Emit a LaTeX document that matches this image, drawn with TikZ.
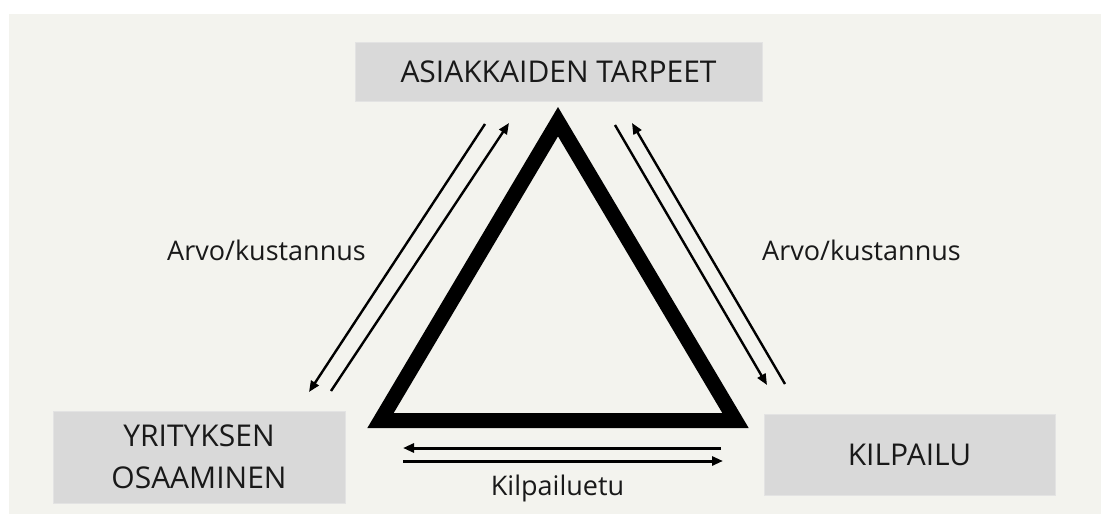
\documentclass[tikz,border=0pt]{standalone}
\usepackage{fontspec}
\setmainfont{Open Sans}
\usetikzlibrary{arrows.meta}
\definecolor{fondo}{HTML}{F3F3EE}
\definecolor{caja}{HTML}{D9D9D9}
\definecolor{borde}{HTML}{E3E3E3}
\tikzset{
  laatikko/.style={fill=caja,draw=borde,line width=0.8pt,inner sep=0pt,
    text=black!90,align=center,font=\fontsize{30}{42}\selectfont},
  nuoli/.style={->,line width=2.4pt},
  selite/.style={text=black!90,font=\fontsize{27}{32}\selectfont,anchor=base},
}

\begin{document}
\begin{tikzpicture}[x=1pt,y=-1pt,>={Triangle[length=11pt,width=9pt]}]
  \useasboundingbox (0,0) rectangle (1101,514);
  \fill[fondo] (9,14) rectangle (1101,514);
  % laatikot
  \node[laatikko,minimum width=407pt,minimum height=59pt] (tarpeet) at (558.5,71.5) {ASIAKKAIDEN TARPEET};
  \node[laatikko,minimum width=292pt,minimum height=92pt] (osaaminen) at (199,457) {YRITYKSEN\\OSAAMINEN};
  \node[laatikko,minimum width=291pt,minimum height=81pt] (kilpailu) at (909.5,454.5) {KILPAILU};
  % kolmio
  \draw[line width=15pt] (558,121.7) -- (380.5,420.5) -- (735.5,420.5) -- cycle;
  % nuolet vasen
  \coordinate (v1) at (485,124); \coordinate (v2) at (309,392);
  \coordinate (v3) at (331,391); \coordinate (v4) at (509,123);
  \draw[nuoli] (v1) -- (v2);
  \draw[nuoli] (v3) -- (v4);
  % nuolet oikea
  \coordinate (o1) at (615,125); \coordinate (o2) at (767,385);
  \coordinate (o3) at (785,384); \coordinate (o4) at (632,123);
  \draw[nuoli] (o1) -- (o2);
  \draw[nuoli] (o3) -- (o4);
  % nuolet ala
  \coordinate (a1) at (721,448); \coordinate (a2) at (403,448);
  \coordinate (a3) at (403,461); \coordinate (a4) at (723,461);
  \draw[nuoli,line width=3pt] (a1) -- (a2);
  \draw[nuoli,line width=3pt] (a3) -- (a4);
  % tekstit
  \node[selite] (arvo1) at (266.5,260) {Arvo/kustannus};
  \node[selite] (arvo2) at (861.5,260) {Arvo/kustannus};
  \node[selite] (etu) at (557.5,495) {Kilpailuetu};
\end{tikzpicture}
\end{document}
